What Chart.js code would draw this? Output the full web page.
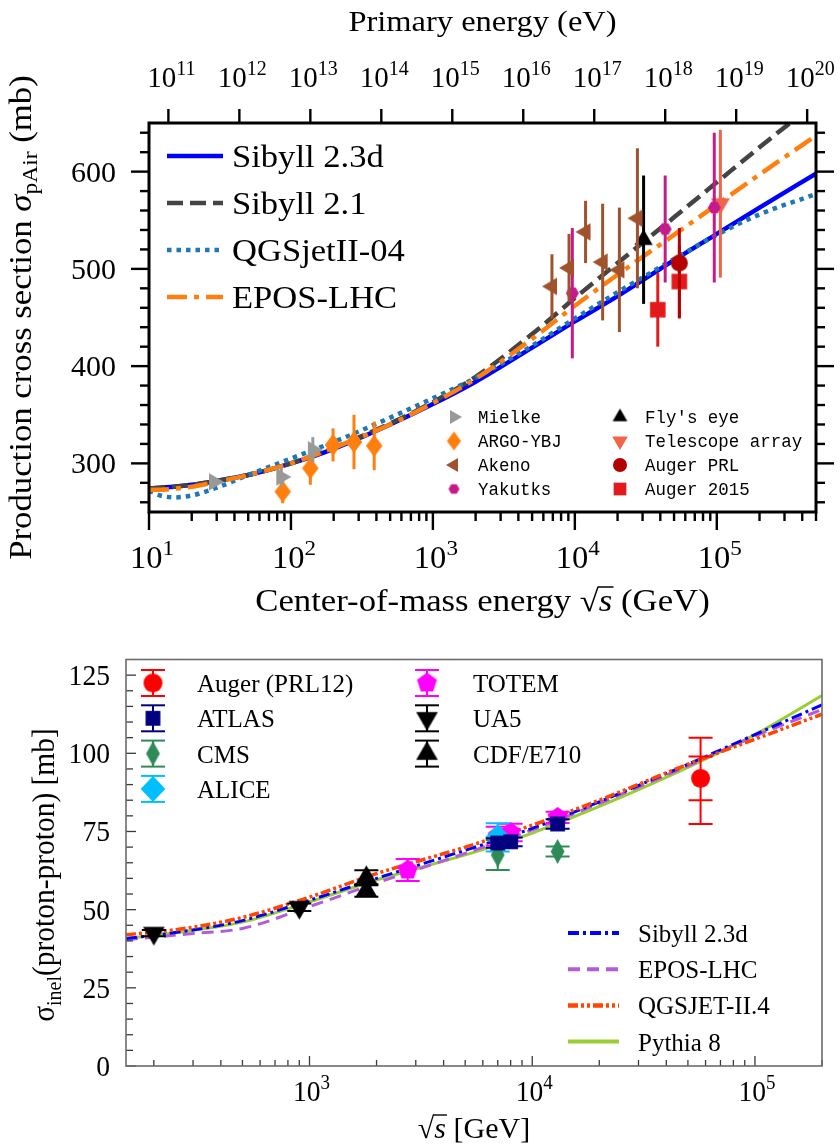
<!DOCTYPE html>
<html lang="en">
<head>
<meta charset="utf-8">
<title>Proton-air and proton-proton cross sections</title>
<script src="https://cdn.jsdelivr.net/npm/chart.js@4.4.1/dist/chart.umd.min.js"></script>
<style>
  html, body { margin: 0; padding: 0; background: #ffffff; }
  .panel { position: absolute; left: 0; width: 840px; }
  #panel-pair { top: 0; height: 620px; }
  #panel-pp { top: 620px; height: 526px; }
</style>
</head>
<body>
<div class="panel" id="panel-pair"><canvas id="pair-chart" width="840" height="620"></canvas></div>
<div class="panel" id="panel-pp"><canvas id="pp-chart" width="840" height="526"></canvas></div>
<script>
// ---------- upper panel: p-air production cross section (mb) vs sqrt(s) ----------
const modelSqrtS = [10, 12, 15, 20, 30, 50, 100, 200, 500, 1e3, 2e3, 5e3, 1e4, 2e4, 5e4, 1e5, 2e5, 5e5];
const sibyll23d = [274, 275, 276, 278, 282, 288, 300, 315, 340, 361, 384, 419, 446, 472, 509, 536, 563, 598];
const sibyll21 = [274, 275, 276, 278, 282, 288, 300, 316, 341, 363, 389, 433, 470, 506, 553, 589, 625, 671];
const qgsjet04 = [272, 267, 265, 267, 275, 288, 305, 322, 347, 367, 388, 421, 449, 476, 510, 535, 556, 577];
const eposLhc = [273, 273, 274, 276, 281, 288, 300, 316, 340, 362, 387, 428, 462, 494, 535, 566, 597, 637];

const mielkeX = [28.7, 85.5, 142.6];
const mielkeY = [281, 286, 314];
const mielkeErr = [3, 10, 13];
const argoX = [87.5, 137, 198, 278, 386];
const argoY = [271, 295, 319, 322, 318];
const argoErr = [12, 17, 17, 28, 25];
const akenoX = [6900, 9100, 11900, 15700, 20600, 27600];
const akenoY = [482, 501, 538, 507, 499, 552];
const akenoErr = [33, 35, 32, 60, 64, 72];
const yakutskX = [9600, 43300, 96000];
const yakutskY = [475, 541, 563];
const yakutskErr = [67, 55, 77];
const flysEyeX = [30500];
const flysEyeY = [530];
const flysEyeErr = [66];
const taX = [106000];
const taY = [567];
const taErr = [76];
const augerPrlX = [54500];
const augerPrlY = [506];
const augerPrlLo = [57];
const augerPrlHi = [36];
const auger15X = [38400, 54500];
const auger15Y = [458, 487];
const auger15Err = [38, 37];

const pairYLabels = [300, 400, 500, 600];
const primaryEnergyExp = [11, 12, 13, 14, 15, 16, 17, 18, 19, 20]; // log10(E / eV)
const PROTON_MASS_GEV = 0.938;

// ---------- lower panel: inelastic p-p cross section (mb) ----------
const ppSqrtS = [150, 200, 300, 500, 1e3, 2e3, 5e3, 1e4, 2e4, 5e4, 1e5, 2e5];
const ppSibyll = [40.8, 41.8, 43.5, 46.5, 53, 60, 69, 76, 84.5, 96.5, 106, 115.5];
const ppEpos = [40.4, 41.2, 42.4, 44, 51, 58.5, 68, 75.5, 84, 96, 105.5, 114];
const ppQgsjet = [42, 42.8, 44.4, 47.5, 54, 61.5, 70, 77, 85, 96.5, 104.5, 112.5];
const ppPythia = [40.8, 41.8, 43.4, 46, 52.5, 59.5, 67.5, 74.5, 83, 95.5, 106, 118.5];

const augerPPX = [57000];
const augerPPY = [92];
const augerPPLo = [14.6];
const augerPPHi = [13];
const augerPPStat = [7];
const atlasX = [7000, 8000, 13000];
const atlasY = [71.3, 71.7, 77.4];
const atlasErr = [1.5, 1.4, 1.5];
const cmsX = [7000, 13000];
const cmsY = [67.5, 68.6];
const cmsErr = [4.8, 1.6];
const aliceX = [7000];
const aliceY = [73.2];
const aliceLo = [4.6];
const aliceHi = [4.4];
const totemX = [2760, 7000, 8000, 13000];
const totemY = [62.7, 73.5, 74.7, 79.5];
const totemErr = [3.5, 3, 2.8, 1.8];
const ua5X = [200, 900];
const ua5Y = [42.5, 50.8];
const ua5Err = [1, 1.2];
const cdfX = [1800, 1800];
const cdfY = [60.2, 56.1];
const cdfErr = [2.4, 2.0];

const ppYLabels = [0, 25, 50, 75, 100, 125];

// ---------- helpers ----------
const SERIF = '"Liberation Serif", "Times New Roman", serif';
const MONO = '"Liberation Mono", "DejaVu Sans Mono", monospace';
const CM_STRETCH = 1.12; // upper panel was typeset in a wider (LaTeX) face

const xy = (xs, ys) => xs.map((x, i) => ({ x, y: ys[i] }));
const range = (a, b, step) => { const out = []; for (let v = a; v <= b + 1e-9; v += step) out.push(v); return out; };
const isDecade = v => Math.abs(Math.log10(v) - Math.round(Math.log10(v))) < 1e-6;
const sqrtSFromEnergy = n => Math.sqrt(2 * PROTON_MASS_GEV * Math.pow(10, n - 9));

function logTicks(lo, hi) {
  const out = [];
  for (let e = Math.floor(Math.log10(lo)); e <= Math.ceil(Math.log10(hi)); e++) {
    for (let m = 1; m < 10; m++) {
      const v = m * Math.pow(10, e);
      if (v >= lo * 0.999 && v <= hi * 1.001) out.push(v);
    }
  }
  return out;
}

// filled marker drawn on a small canvas so both the chart and the legends can use it
function marker(shape, r, color, sx = 1) {
  const size = Math.ceil(2 * r + 4);
  const c = document.createElement('canvas');
  c.width = c.height = size;
  const g = c.getContext('2d');
  const m = size / 2;
  const spec = { up: [3, -90], down: [3, 90], left: [3, 180], right: [3, 0], square: [4, 45],
                 diamond: [4, -90], pentagon: [5, -90], hexagon: [6, 0] }[shape];
  g.fillStyle = color;
  g.beginPath();
  if (shape === 'circle') {
    g.arc(m, m, r, 0, 2 * Math.PI);
  } else {
    for (let i = 0; i < spec[0]; i++) {
      const a = (spec[1] + i * 360 / spec[0]) * Math.PI / 180;
      const px = m + r * sx * Math.cos(a), py = m + r * Math.sin(a);
      if (i === 0) g.moveTo(px, py); else g.lineTo(px, py);
    }
    g.closePath();
  }
  g.fill();
  return c;
}

function line(ctx, x1, y1, x2, y2) {
  ctx.beginPath(); ctx.moveTo(x1, y1); ctx.lineTo(x2, y2); ctx.stroke();
}

// draws a list of text runs ({t, font, dy, bar}) starting at (x, y)
function richText(ctx, parts, x, y, { align = 'center', sx = 1, color = '#000' } = {}) {
  ctx.save();
  ctx.fillStyle = color; ctx.strokeStyle = color;
  ctx.textAlign = 'left'; ctx.textBaseline = 'alphabetic';
  let w = 0;
  parts.forEach(p => { ctx.font = p.font; p.w = ctx.measureText(p.t).width; w += p.w; });
  const x0 = align === 'center' ? -w / 2 : align === 'right' ? -w : 0;
  ctx.translate(x, y);
  ctx.scale(sx, 1);
  let cx = x0;
  parts.forEach(p => {
    ctx.font = p.font;
    ctx.fillText(p.t, cx, p.dy || 0);
    if (p.bar) { ctx.lineWidth = p.bar.w; line(ctx, cx - 1, p.bar.y, cx + p.w + 1, p.bar.y); }
    cx += p.w + (p.gap || 0);
  });
  ctx.restore();
}

function powerLabel(ctx, exp, x, y, size, sx) {
  richText(ctx, [
    { t: '10', font: `${size}px ${SERIF}` },
    { t: String(exp), font: `${Math.round(size * 0.7)}px ${SERIF}`, dy: -size * 0.42 }
  ], x, y, { align: 'center', sx });
}

function curve(label, xs, ys, color, dash, width, order) {
  return { label, data: xy(xs, ys), showLine: true, borderColor: color, backgroundColor: color,
           borderDash: dash, borderWidth: width, borderCapStyle: 'butt', pointRadius: 0,
           cubicInterpolationMode: 'monotone', fill: false, order };
}

function points(label, xs, ys, lo, hi, sym, color, extra = {}) {
  return Object.assign({ label, data: xy(xs, ys), showLine: false, pointStyle: sym, pointRadius: 6,
           backgroundColor: color, borderColor: color, errLo: lo, errHi: hi, errColor: color, order: 1 }, extra);
}

// vertical error bars, drawn right before the dataset they belong to
const errorBarPlugin = {
  id: 'errorBars',
  beforeDatasetDraw(chart, args) {
    const ds = chart.data.datasets[args.index];
    if (!ds.errLo) return;
    const { ctx, chartArea: a } = chart;
    const xs = chart.scales.x, ys = chart.scales.y;
    ctx.save();
    ctx.beginPath(); ctx.rect(a.left, a.top, a.width, a.height); ctx.clip();
    ctx.strokeStyle = ds.errColor;
    ctx.lineWidth = ds.errWidth || 3;
    ds.data.forEach((p, i) => {
      const px = xs.getPixelForValue(p.x);
      const yLo = ys.getPixelForValue(p.y - ds.errLo[i]);
      const yHi = ys.getPixelForValue(p.y + ds.errHi[i]);
      line(ctx, px, yLo, px, yHi);
      if (ds.cap) {
        line(ctx, px - ds.cap, yLo, px + ds.cap, yLo);
        line(ctx, px - ds.cap, yHi, px + ds.cap, yHi);
      }
      if (ds.innerErr) {
        const y1 = ys.getPixelForValue(p.y - ds.innerErr[i]);
        const y2 = ys.getPixelForValue(p.y + ds.innerErr[i]);
        line(ctx, px - ds.cap, y1, px + ds.cap, y1);
        line(ctx, px - ds.cap, y2, px + ds.cap, y2);
      }
    });
    ctx.restore();
  }
};

// fixed axis boxes so the plot area lands where it does in the figure
const fixHeight = h => s => { s.height = h; s.paddingLeft = 0; s.paddingRight = 0; };
const fixWidth = w => s => { s.width = w; s.paddingTop = 0; s.paddingBottom = 0; };
const hidden = { ticks: { display: false }, grid: { display: false, drawTicks: false }, border: { display: false } };

// ================= upper panel =================
const pairMarkers = {
  mielke: marker('right', 10, '#999999'),
  argo: marker('diamond', 11, '#ff7f0e', 0.75),
  akeno: marker('left', 10, '#a0522d'),
  yakutsk: marker('hexagon', 6.5, '#c51b8a'),
  flys: marker('up', 10.5, '#000000'),
  ta: marker('down', 11, '#f0654a'),
  augerPrl: marker('circle', 8.5, '#b30000'),
  auger15: marker('square', 11, '#e31a1c')
};
const pairLegendMarkers = {
  mielke: marker('right', 8, '#999999'),
  argo: marker('diamond', 9.5, '#ff7f0e', 0.75),
  akeno: marker('left', 8, '#a0522d'),
  yakutsk: marker('hexagon', 5.5, '#c51b8a'),
  flys: marker('up', 8.5, '#000000'),
  ta: marker('down', 9, '#f0654a'),
  augerPrl: marker('circle', 7, '#b30000'),
  auger15: marker('square', 9, '#e31a1c')
};

const pairCurves = [
  curve('Sibyll 2.3d', modelSqrtS, sibyll23d, '#0000ff', [], 4.5, 23),
  curve('Sibyll 2.1', modelSqrtS, sibyll21, '#444444', [16, 7], 4.5, 22),
  curve('QGSjetII-04', modelSqrtS, qgsjet04, '#1f77b4', [4.5, 5], 4.5, 21),
  curve('EPOS-LHC', modelSqrtS, eposLhc, '#ff7f0e', [20, 7, 5, 7], 4.5, 20)
];
const pairData = [
  points('Mielke', mielkeX, mielkeY, mielkeErr, mielkeErr, pairMarkers.mielke, '#999999'),
  points('ARGO-YBJ', argoX, argoY, argoErr, argoErr, pairMarkers.argo, '#ff7f0e'),
  points('Akeno', akenoX, akenoY, akenoErr, akenoErr, pairMarkers.akeno, '#a0522d'),
  points('Yakutks', yakutskX, yakutskY, yakutskErr, yakutskErr, pairMarkers.yakutsk, '#c51b8a'),
  points("Fly's eye", flysEyeX, flysEyeY, flysEyeErr, flysEyeErr, pairMarkers.flys, '#000000'),
  points('Telescope array', taX, taY, taErr, taErr, pairMarkers.ta, '#f0654a'),
  points('Auger PRL', augerPrlX, augerPrlY, augerPrlLo, augerPrlHi, pairMarkers.augerPrl, '#b30000'),
  points('Auger 2015', auger15X, auger15Y, auger15Err, auger15Err, pairMarkers.auger15, '#e31a1c')
];
const pairLegendKeys = ['mielke', 'argo', 'akeno', 'yakutsk', 'flys', 'ta', 'augerPrl', 'auger15'];

const pairDecor = {
  id: 'pairDecor',
  afterDatasetsDraw(chart) {
    const { ctx, chartArea: a, scales } = chart;
    ctx.save();
    ctx.strokeStyle = '#000'; ctx.lineWidth = 2.4; ctx.lineCap = 'butt';
    scales.x.ticks.forEach(t => {
      const px = scales.x.getPixelForValue(t.value);
      line(ctx, px, a.bottom, px, a.bottom + (isDecade(t.value) ? 18 : 9));
    });
    scales.xTop.ticks.forEach(t => {
      const px = scales.xTop.getPixelForValue(t.value);
      line(ctx, px, a.top, px, a.top - 14);
    });
    scales.y.ticks.forEach(t => {
      const py = scales.y.getPixelForValue(t.value);
      const len = t.value % 100 === 0 ? 18 : 9;
      line(ctx, a.left, py, a.left - len, py);
      line(ctx, a.right, py, a.right + len, py);
    });
    ctx.lineWidth = 3;
    ctx.strokeRect(a.left, a.top, a.width, a.height);

    // tick labels
    pairYLabels.forEach(v => {
      richText(ctx, [{ t: String(v), font: `30px ${SERIF}` }], 116, scales.y.getPixelForValue(v) + 10, { align: 'right' });
    });
    scales.x.ticks.filter(t => isDecade(t.value)).forEach(t => {
      powerLabel(ctx, Math.round(Math.log10(t.value)), scales.x.getPixelForValue(t.value) + 3, 568, 31, 1.05);
    });
    scales.xTop.ticks.forEach((t, i) => {
      powerLabel(ctx, primaryEnergyExp[i], scales.xTop.getPixelForValue(t.value) + 3, 87, 29, 1.0);
    });

    // axis titles
    richText(ctx, [{ t: 'Primary energy (eV)', font: `29px ${SERIF}` }], (a.left + a.right) / 2, 31, { sx: CM_STRETCH });
    richText(ctx, [
      { t: 'Center-of-mass energy ', font: `31px ${SERIF}` },
      { t: '\u221A', font: `31px ${SERIF}` },
      { t: 's', font: `italic 31px ${SERIF}`, bar: { y: -24, w: 1.5 } },
      { t: ' (GeV)', font: `31px ${SERIF}` }
    ], (a.left + a.right) / 2, 611, { sx: CM_STRETCH });
    ctx.save();
    ctx.translate(31, (a.top + a.bottom) / 2);
    ctx.rotate(-Math.PI / 2);
    richText(ctx, [
      { t: 'Production cross section ', font: `31px ${SERIF}` },
      { t: '\u03C3', font: `italic 31px ${SERIF}` },
      { t: 'pAir', font: `21px ${SERIF}`, dy: 6 },
      { t: ' (mb)', font: `31px ${SERIF}` }
    ], 0, 0, { sx: CM_STRETCH });
    ctx.restore();

    // model legend (upper left)
    pairCurves.forEach((ds, i) => {
      const y = 156 + i * 47;
      ctx.save();
      ctx.strokeStyle = ds.borderColor; ctx.lineWidth = ds.borderWidth;
      ctx.setLineDash(ds.borderDash);
      line(ctx, 167, y, 223, y);
      ctx.restore();
      richText(ctx, [{ t: ds.label, font: `32px ${SERIF}` }], 232, y + 11, { align: 'left', sx: 1.08 });
    });

    // data legend (lower right, two columns)
    pairData.forEach((ds, i) => {
      const col = Math.floor(i / 4), row = i % 4;
      const mx = col ? 620 : 454, tx = col ? 645 : 478, y = 417 + row * 24;
      const m = pairLegendMarkers[pairLegendKeys[i]];
      ctx.drawImage(m, mx - m.width / 2, y - m.height / 2);
      richText(ctx, [{ t: ds.label, font: `18px ${MONO}` }], tx, y + 6, { align: 'left', sx: 0.97 });
    });
    ctx.restore();
  }
};

new Chart(document.getElementById('pair-chart'), {
  type: 'scatter',
  data: { datasets: [...pairData, ...pairCurves] },
  options: {
    responsive: false,
    animation: false,
    events: [],
    layout: { padding: 0 },
    plugins: { legend: { display: false }, tooltip: { enabled: false } },
    scales: {
      x: Object.assign({ type: 'logarithmic', position: 'bottom', min: 10, max: 5e5, bounds: 'data',
           afterBuildTicks: s => { s.ticks = logTicks(10, 5e5).map(v => ({ value: v })); },
           afterFit: fixHeight(108) }, hidden),
      xTop: Object.assign({ type: 'logarithmic', position: 'top', min: 10, max: 5e5, bounds: 'data',
           afterBuildTicks: s => { s.ticks = primaryEnergyExp.map(n => ({ value: sqrtSFromEnergy(n) })); },
           afterFit: fixHeight(123) }, hidden),
      y: Object.assign({ type: 'linear', position: 'left', min: 250, max: 650, bounds: 'data',
           afterBuildTicks: s => { s.ticks = range(260, 640, 20).map(v => ({ value: v })); },
           afterFit: fixWidth(149) }, hidden),
      yRight: Object.assign({ type: 'linear', position: 'right', min: 250, max: 650, bounds: 'data',
           afterFit: fixWidth(24) }, hidden)
    }
  },
  plugins: [errorBarPlugin, pairDecor]
});

// ================= lower panel =================
const ppMarkers = {
  auger: marker('circle', 9.5, '#ff0000'),
  atlas: marker('square', 10.5, '#000080'),
  cms: marker('diamond', 12.5, '#2e8b57', 0.55),
  alice: marker('diamond', 13, '#00bfff', 0.95),
  totem: marker('pentagon', 10.5, '#ff00ff'),
  ua5: marker('down', 12.5, '#000000'),
  cdf: marker('up', 12.5, '#000000')
};

const ppCurves = [
  curve('Sibyll 2.3d', ppSqrtS, ppSibyll, '#0000ff', [11, 4, 3, 4], 3, 21),
  curve('EPOS-LHC', ppSqrtS, ppEpos, '#b45bd6', [12, 7], 3, 22),
  curve('QGSJET-II.4', ppSqrtS, ppQgsjet, '#ff4500', [10, 3, 3, 3, 3, 3], 3.5, 20),
  curve('Pythia 8', ppSqrtS, ppPythia, '#9acd32', [], 3, 23)
];
const capped = { errWidth: 2, cap: 12 };
const ppData = [
  points('Auger (PRL12)', augerPPX, augerPPY, augerPPLo, augerPPHi, ppMarkers.auger, '#ff0000',
         Object.assign({ innerErr: augerPPStat }, capped)),
  points('ATLAS', atlasX, atlasY, atlasErr, atlasErr, ppMarkers.atlas, '#000080', capped),
  points('CMS', cmsX, cmsY, cmsErr, cmsErr, ppMarkers.cms, '#2e8b57', capped),
  points('ALICE', aliceX, aliceY, aliceLo, aliceHi, ppMarkers.alice, '#00bfff', capped),
  points('TOTEM', totemX, totemY, totemErr, totemErr, ppMarkers.totem, '#ff00ff', capped),
  points('UA5', ua5X, ua5Y, ua5Err, ua5Err, ppMarkers.ua5, '#000000', capped),
  points('CDF/E710', cdfX, cdfY, cdfErr, cdfErr, ppMarkers.cdf, '#000000', capped)
];
const ppLegendKeys = ['auger', 'atlas', 'cms', 'alice', 'totem', 'ua5', 'cdf'];

const ppDecor = {
  id: 'ppDecor',
  afterDatasetsDraw(chart) {
    const { ctx, chartArea: a, scales } = chart;
    ctx.save();
    ctx.strokeStyle = '#3a3a3a'; ctx.lineWidth = 1.3;
    scales.x.ticks.forEach(t => {
      const px = scales.x.getPixelForValue(t.value);
      line(ctx, px, a.bottom, px, a.bottom - (isDecade(t.value) ? 10 : 6));
    });
    scales.y.ticks.forEach(t => {
      const py = scales.y.getPixelForValue(t.value);
      line(ctx, a.left, py, a.left + (t.value % 25 === 0 ? 10 : 7), py);
    });
    ctx.strokeStyle = '#6b6b6b'; ctx.lineWidth = 1.6;
    ctx.strokeRect(a.left, a.top, a.width, a.height);

    ppYLabels.forEach(v => {
      richText(ctx, [{ t: String(v), font: `30px ${SERIF}` }], 110, scales.y.getPixelForValue(v) + 10, { align: 'right', sx: 0.92 });
    });
    scales.x.ticks.filter(t => isDecade(t.value)).forEach(t => {
      powerLabel(ctx, Math.round(Math.log10(t.value)), scales.x.getPixelForValue(t.value) + 2, 481, 29, 0.95);
    });
    richText(ctx, [
      { t: '\u221A', font: `30px ${SERIF}` },
      { t: 's', font: `italic 30px ${SERIF}`, bar: { y: -23, w: 1.4 } },
      { t: ' [GeV]', font: `30px ${SERIF}` }
    ], (a.left + a.right) / 2, 518);
    ctx.save();
    ctx.translate(54, 255);
    ctx.rotate(-Math.PI / 2);
    richText(ctx, [
      { t: '\u03C3', font: `31px ${SERIF}` },
      { t: 'inel', font: `21px ${SERIF}`, dy: 7 },
      { t: '(proton-proton) [mb]', font: `31px ${SERIF}` }
    ], 0, 0, { sx: 0.95 });
    ctx.restore();

    // data legend (two columns, top left)
    ppData.forEach((ds, i) => {
      const col = Math.floor(i / 4), row = i % 4;
      const mx = col ? 427 : 153, tx = col ? 473 : 197, y = 63 + row * 35.3;
      ctx.strokeStyle = ds.errColor; ctx.lineWidth = 2;
      line(ctx, mx, y - 13, mx, y + 13);
      line(ctx, mx - 12, y - 13, mx + 12, y - 13);
      line(ctx, mx - 12, y + 13, mx + 12, y + 13);
      const m = ppMarkers[ppLegendKeys[i]];
      ctx.drawImage(m, mx - m.width / 2, y - m.height / 2);
      richText(ctx, [{ t: ds.label, font: `25px ${SERIF}` }], tx, y + 9, { align: 'left' });
    });

    // model legend (lower right)
    ppCurves.forEach((ds, i) => {
      const y = 313 + i * 36.2;
      ctx.save();
      ctx.strokeStyle = ds.borderColor; ctx.lineWidth = ds.borderWidth + 1;
      ctx.setLineDash(ds.borderDash);
      line(ctx, 568, y, 619, y);
      ctx.restore();
      richText(ctx, [{ t: ds.label, font: `25px ${SERIF}` }], 638, y + 9, { align: 'left' });
    });
    ctx.restore();
  }
};

new Chart(document.getElementById('pp-chart'), {
  type: 'scatter',
  data: { datasets: [...ppData, ...ppCurves] },
  options: {
    responsive: false,
    animation: false,
    events: [],
    layout: { padding: { top: 39.5, right: 18, left: 0, bottom: 0 } },
    plugins: { legend: { display: false }, tooltip: { enabled: false } },
    scales: {
      x: Object.assign({ type: 'logarithmic', position: 'bottom', min: 150, max: 2e5, bounds: 'data',
           afterBuildTicks: s => { s.ticks = logTicks(150, 2e5).map(v => ({ value: v })); },
           afterFit: fixHeight(80) }, hidden),
      y: Object.assign({ type: 'linear', position: 'left', min: 0, max: 130, bounds: 'data',
           afterBuildTicks: s => { s.ticks = range(0, 125, 5).map(v => ({ value: v })); },
           afterFit: fixWidth(126) }, hidden)
    }
  },
  plugins: [errorBarPlugin, ppDecor]
});
</script>
</body>
</html>
